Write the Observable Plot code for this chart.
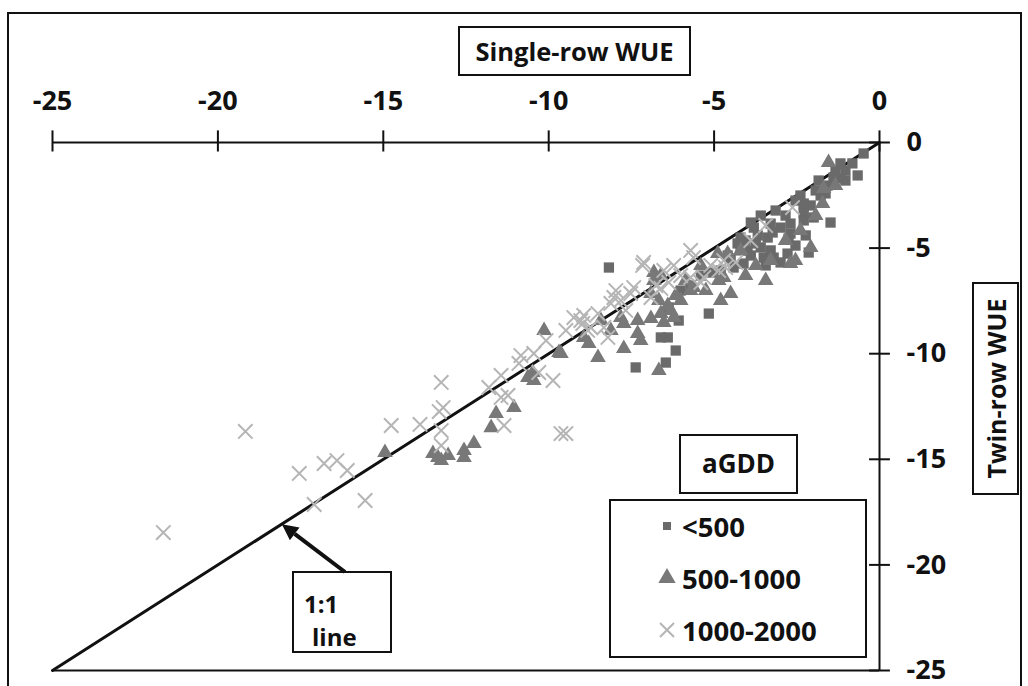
<!DOCTYPE html>
<html>
<head>
<meta charset="utf-8">
<script src="https://cdn.jsdelivr.net/npm/d3@7"></script>
<script src="https://cdn.jsdelivr.net/npm/@observablehq/plot@0.6"></script>
<style>
  html, body { margin: 0; padding: 0; background: #fff; }
  #chart { width: 1028px; height: 686px; overflow: hidden; }
</style>
</head>
<body>
<div id="chart"></div>
<script>
// ---- Data ----
const xTicks = [-25, -20, -15, -10, -5, 0];
const yTicks = [0, -5, -10, -15, -20, -25];
const oneToOne = [-25, 0];
const seriesNames = ["<500", "500-1000", "1000-2000"];

// <500 (squares)
const sqX = [-0.48,-0.66,-0.82,-1.18,-1.18,-1.39,-1.57,-1.63,-2.08,-2.29,-2.29,-1.48,-2.29,-1.99,-2.29,-2.69,-2.69,-2.99,-3.29,-3.80,-3.89,-4.20,-4.29,-3.99,-3.59,-3.38,-3.29,-3.20,-2.78,-2.14,-3.50,-4.11,-4.41,-4.80,-5.16,-6.07,-6.37,-6.40,-6.61,-6.16,-6.46,-7.37,-8.18,-3.68,-4.05,-4.59,-5.10,-5.40,-5.71,-6.01,-2.84,-1.78,-1.03,
  -3.59,-3.14,-2.54,-1.93,-1.33,-1.03,-3.89,-3.44,-2.99,-2.54,-2.23,-4.20,-4.50,-3.74,-3.23,-2.75,-2.39,-1.84];
const sqY = [-0.52,-1.56,-0.99,-0.99,-1.70,-1.66,-2.04,-2.41,-2.98,-2.98,-3.36,-3.79,-2.89,-3.55,-3.69,-3.84,-4.31,-4.03,-3.84,-4.03,-3.79,-4.50,-4.78,-5.11,-4.97,-4.50,-5.11,-5.45,-5.26,-5.21,-5.45,-5.73,-5.92,-6.06,-8.10,-8.43,-7.81,-9.23,-9.23,-9.85,-10.42,-10.65,-5.92,-4.40,-4.64,-5.35,-6.16,-6.30,-6.77,-7.01,-3.46,-2.51,-1.33,
  -3.46,-3.22,-2.75,-2.27,-1.33,-1.80,-5.35,-5.82,-5.68,-4.88,-4.40,-5.11,-5.49,-4.78,-4.26,-4.55,-2.51,-1.80];

// 500-1000 (triangles)
const triX = [-1.54,-1.69,-1.72,-2.08,-2.69,-4.50,-4.89,-4.59,-4.71,-4.86,-5.62,-5.71,-5.25,-6.40,-6.31,-6.22,-6.61,-6.52,-6.82,-6.61,-6.82,-6.91,-7.82,-7.73,-7.31,-7.31,-7.22,-6.91,-6.67,-7.73,-8.51,-8.79,-8.94,-6.67,-9.63,-10.14,-9.69,-10.48,-10.63,-10.45,-11.05,-11.59,-11.74,-12.26,-12.56,-12.56,-13.04,-13.35,-13.50,-13.25,-14.95,-4.20,-3.74,-3.29,-2.84,-2.39,-1.93,-1.33,-5.40,-5.86,-6.16,-8.12,-8.42,-4.80,-6.01,-4.05,-3.44,-2.54];
const triY = [-0.95,-2.18,-2.89,-4.97,-5.73,-7.15,-5.26,-5.26,-6.39,-6.53,-6.87,-7.01,-7.01,-7.72,-7.95,-8.29,-8.10,-8.52,-6.16,-6.30,-6.53,-7.15,-8.29,-8.57,-8.43,-9.04,-9.38,-8.33,-7.48,-9.75,-10.18,-9.52,-9.23,-10.80,-9.99,-8.90,-9.94,-10.89,-11.13,-11.27,-12.55,-12.83,-13.50,-14.25,-14.58,-14.92,-14.82,-14.92,-14.73,-15.06,-14.68,-5.11,-5.82,-5.59,-4.64,-4.17,-3.46,-2.04,-5.82,-6.53,-7.24,-8.90,-8.43,-7.48,-7.48,-6.30,-6.53,-5.59];

// 1000-2000 (crosses)
const crX = [-21.65,-19.17,-17.54,-17.09,-16.79,-16.40,-16.09,-15.55,-14.76,-13.31,-13.25,-13.25,-13.19,-13.89,-13.25,-11.81,-11.44,-11.44,-11.35,-10.90,-10.45,-10.30,-9.87,-9.63,-9.48,-9.48,-9.24,-8.97,-8.73,-11.23,-7.43,-7.52,-8.03,-8.12,-8.51,-8.94,-9.03,-8.82,-8.33,-8.21,-7.16,-7.13,-5.71,-5.62,-4.71,-4.65,-4.86,-5.31,-5.40,-5.71,-6.01,-6.22,-6.52,-6.61,-6.91,-2.63,-4.35,-7.82,-7.67,-6.76,-6.37,-5.10,-3.89,-3.44,-10.08,-10.84,-7.97];
const crY = [-18.47,-13.68,-15.67,-17.14,-15.20,-15.06,-15.53,-16.95,-13.40,-12.74,-11.36,-13.64,-12.55,-13.35,-14.35,-11.60,-11.03,-12.07,-13.40,-10.46,-9.99,-10.89,-11.27,-13.78,-13.78,-8.90,-8.29,-8.57,-8.76,-11.98,-6.87,-7.15,-7.34,-7.62,-8.10,-8.19,-8.43,-8.90,-8.76,-9.23,-5.82,-5.68,-5.11,-5.45,-5.59,-5.92,-6.06,-6.39,-6.63,-6.39,-6.30,-5.82,-6.06,-6.91,-7.34,-3.08,-5.68,-7.48,-7.95,-6.77,-6.63,-5.82,-4.64,-3.93,-9.38,-10.09,-7.01];

// ---- Build tables ----
const sq = sqX.map((x, i) => ({x, y: sqY[i]}));
const tri = triX.map((x, i) => ({x, y: triY[i]}));
const cr = crX.map((x, i) => ({x, y: crY[i]}));

const FONT = "'Open Sans', Carlito, Lato, sans-serif";
const colSq = "#6a6a6a", colTri = "#787878", colCr = "#b5b5b5";

const chart = Plot.plot({
  width: 1028,
  height: 686,
  marginLeft: 52,
  marginRight: 149,
  marginTop: 142,
  marginBottom: 16,
  style: {background: "white", fontFamily: FONT},
  x: {domain: [-25, 0], axis: null},
  y: {domain: [-25, 0], axis: null},
  marks: [
    // 1:1 line
    Plot.line(oneToOne, {x: d => d, y: d => d, stroke: "#111", strokeWidth: 3}),
    // data
    Plot.dot(sq, {x: "x", y: "y", symbol: "square", r: 5.8, fill: colSq, stroke: "none"}),
    Plot.dot(tri, {x: "x", y: "y", symbol: "triangle", r: 5.8, fill: colTri, stroke: "none"}),
    Plot.dot(cr, {x: "x", y: "y", symbol: "times", r: 6.6, stroke: colCr, strokeWidth: 2}),
    // axes lines
    Plot.ruleY([0], {x1: -25, x2: 0, stroke: "#111", strokeWidth: 2}),
    Plot.ruleY([-25], {x1: -25, x2: 0, stroke: "#111", strokeWidth: 2}),
    Plot.ruleX([0], {y1: -25, y2: 0, stroke: "#111", strokeWidth: 2}),
    // ticks crossing the axis lines
    Plot.ruleX(xTicks, {x: d => d, y1: 0.55, y2: -0.45, stroke: "#111", strokeWidth: 2}),
    Plot.ruleY(yTicks, {y: d => d, x1: -0.3, x2: 0.33, stroke: "#111", strokeWidth: 2}),
    // tick labels
    Plot.text(xTicks, {x: d => d, y: 0, dy: -41, text: d => String(d), fontSize: 27, fontWeight: "bold", fill: "#111"}),
    Plot.text(yTicks, {x: 0, y: d => d, dx: 27, text: d => String(d), textAnchor: "start", fontSize: 27, fontWeight: "bold", fill: "#111"})
  ]
});

document.getElementById("chart").appendChild(chart);

// ---- Annotations (boxes, legend, arrow) ----
const svg = d3.select(chart);
const sx = chart.scale("x"), sy = chart.scale("y");
const ann = svg.append("g").attr("font-family", FONT).attr("font-weight", "bold").attr("fill", "#111");

function box(x, y, w, h) {
  ann.append("rect").attr("x", x).attr("y", y).attr("width", w).attr("height", h)
    .attr("fill", "white").attr("stroke", "#111").attr("stroke-width", 2);
}
function label(x, y, t, size, anchor = "middle", rotate = 0) {
  const el = ann.append("text").attr("x", x).attr("y", y).attr("text-anchor", anchor)
    .attr("dominant-baseline", "central").attr("font-size", size).text(t);
  if (rotate) el.attr("transform", `rotate(${rotate},${x},${y})`);
  return el;
}

// outer frame
ann.append("rect").attr("x", 8).attr("y", 13).attr("width", 1013).attr("height", 690)
  .attr("fill", "none").attr("stroke", "#111").attr("stroke-width", 2);

// axis titles
box(459, 27, 231, 48);
label(574.5, 51, "Single-row WUE", 25.5);
box(973, 283, 45, 211);
label(996, 388.5, "Twin-row WUE", 25, "middle", -90);

// 1:1 line annotation + arrow
box(293, 572, 98, 80);
label(304, 603, "1:1", 24, "start");
label(312, 636, "line", 24, "start");
const tipX = sx.apply(-18.05), tipY = sy.apply(-18.1);
const tailX = 345, tailY = 572;
const ang = Math.atan2(tailY - tipY, tailX - tipX);
const hl = 16, hw = 8;
const bx = tipX + hl * Math.cos(ang), by = tipY + hl * Math.sin(ang);
ann.append("line").attr("x1", tailX).attr("y1", tailY).attr("x2", bx).attr("y2", by)
  .attr("stroke", "#111").attr("stroke-width", 4);
ann.append("path").attr("d", `M${tipX},${tipY}L${bx + hw * Math.sin(ang)},${by - hw * Math.cos(ang)}L${bx - hw * Math.sin(ang)},${by + hw * Math.cos(ang)}Z`)
  .attr("fill", "#111");

// legend
box(680, 435, 117, 58);
label(738.5, 463, "aGDD", 26);
box(610, 500, 256, 157);
const legendSym = [
  {name: seriesNames[0], sym: d3.symbolSquare, size: 64, fill: colSq, stroke: "none", y: 526},
  {name: seriesNames[1], sym: d3.symbolTriangle, size: 130, fill: colTri, stroke: "none", y: 578},
  {name: seriesNames[2], sym: d3.symbolTimes, size: 130, fill: "none", stroke: colCr, y: 630}
];
for (const s of legendSym) {
  ann.append("path").attr("d", d3.symbol(s.sym, s.size)())
    .attr("transform", `translate(667,${s.y})`)
    .attr("fill", s.fill).attr("stroke", s.stroke).attr("stroke-width", 2);
  label(682, s.y, s.name, 27.5, "start");
}
</script>
</body>
</html>
